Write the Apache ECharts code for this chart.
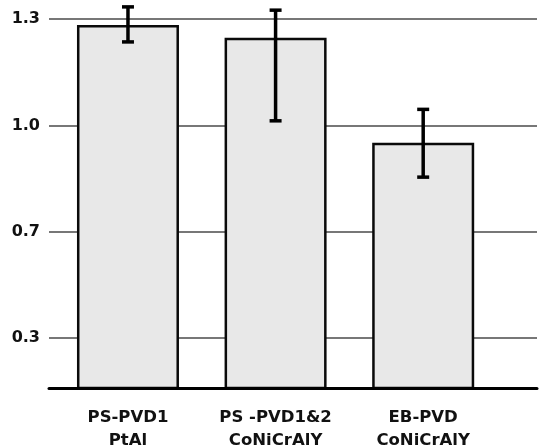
<!DOCTYPE html>
<html>
<head>
<meta charset="utf-8">
<script src="https://cdn.jsdelivr.net/npm/echarts@6/dist/echarts.min.js"></script>
<style>html,body{margin:0;padding:0;background:#fff;}#c{width:541px;height:447px;}</style>
</head>
<body>
<div id="c"></div>
<script>
const categories = ['PS-PVD1\nPtAl', 'PS -PVD1&2\nCoNiCrAlY', 'EB-PVD\nCoNiCrAlY'];
const values = [1.282, 1.243, 0.922];
const errLow = [1.230, 0.989, 0.817];
const errHigh = [1.337, 1.327, 1.024];
const tickValues = [0.325, 0.65, 0.975, 1.3];
const tickLabels = ['0.3', '0.7', '1.0', '1.3'];

const chart = echarts.init(document.getElementById('c'), null, {renderer: 'canvas'});
const idx = categories.map((_, i) => i);
const font = 'DejaVu Sans';

chart.setOption({
  animation: false,
  backgroundColor: '#fff',
  grid: {left: 49, right: 4, top: 19, bottom: 59, containLabel: false, outerBoundsMode: 'none'},
  xAxis: {
    type: 'value',
    min: -0.535,
    max: 2.771,
    z: 10,
    axisLine: {show: true, lineStyle: {color: '#000', width: 3}},
    axisTick: {show: false},
    splitLine: {show: false},
    axisLabel: {
      customValues: idx,
      formatter: v => categories[Math.round(v)],
      color: '#111',
      fontFamily: font,
      fontWeight: 'bold',
      fontSize: 16.5,
      lineHeight: 23,
      margin: 18
    }
  },
  yAxis: {
    type: 'value',
    min: 0.173,
    max: 1.3,
    axisLine: {show: false},
    axisTick: {show: false, customValues: tickValues},
    splitLine: {show: true, lineStyle: {color: '#777', width: 2}},
    axisLabel: {
      customValues: tickValues,
      formatter: v => tickLabels[tickValues.findIndex(t => Math.abs(t - v) < 1e-6)],
      color: '#111',
      fontFamily: font,
      fontWeight: 'bold',
      fontSize: 16,
      margin: 9
    }
  },
  series: [
    {
      type: 'bar',
      data: values.map((v, i) => [i, v]),
      barWidth: 102,
      itemStyle: {color: '#e8e8e8', borderColor: '#0a0a0a', borderWidth: 2.5}
    },
    {
      type: 'custom',
      z: 5,
      data: idx.map(i => [i, errLow[i], errHigh[i]]),
      renderItem: function (params, api) {
        const x = api.value(0);
        const lo = api.coord([x, api.value(1)]);
        const hi = api.coord([x, api.value(2)]);
        const hw = 6;
        const style = {stroke: '#000', lineWidth: 3.5};
        return {
          type: 'group',
          children: [
            {type: 'line', shape: {x1: lo[0], y1: lo[1], x2: hi[0], y2: hi[1]}, style},
            {type: 'line', shape: {x1: lo[0] - hw, y1: lo[1], x2: lo[0] + hw, y2: lo[1]}, style},
            {type: 'line', shape: {x1: hi[0] - hw, y1: hi[1], x2: hi[0] + hw, y2: hi[1]}, style}
          ]
        };
      }
    }
  ]
});
</script>
</body>
</html>
